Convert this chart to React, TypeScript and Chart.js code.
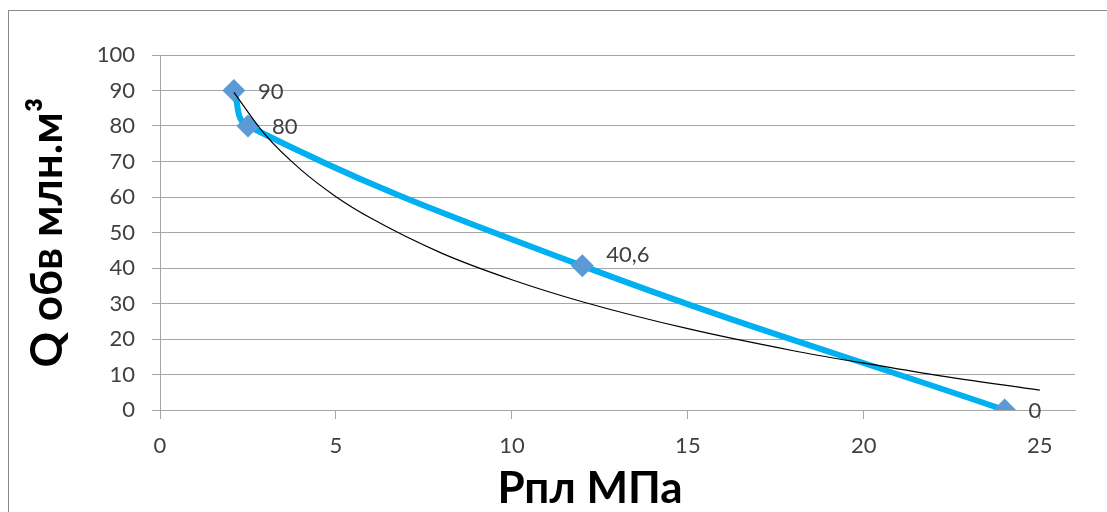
import React, { useEffect, useRef } from 'react';
import { Chart, registerables } from 'chart.js';

Chart.register(...registerables);

const pressure = [2.1, 2.5, 12, 24];
const volume = [90, 80, 40.6, 0];
const pointLabels = ['90', '80', '40,6', '0'];

// Thin black trend curve
const trendPressure = [2.1, 3, 4, 5, 6, 8, 10, 12, 15, 18, 20, 22, 25];
const trendVolume = [89.5, 77.4, 67.7, 60.1, 54.0, 44.2, 36.7, 30.5, 22.9, 16.7, 13.2, 9.9, 5.6];

const xTickValues = [0, 5, 10, 15, 20, 25];
const yTickValues = [0, 10, 20, 30, 40, 50, 60, 70, 80, 90, 100];

const xTitle = 'Рпл МПа';
const yTitle = 'Q обв млн.м³';

const GRID = '#A6A6A6';
const TICK_TEXT = '#404040';
const FONT = 'Lato';

const annotatePlugin = {
  id: 'annotate',
  afterDatasetsDraw(chart: any) {
    const ctx = chart.ctx as CanvasRenderingContext2D;
    const meta = chart.getDatasetMeta(1);
    const area = chart.chartArea;
    ctx.save();
    ctx.font = `22px ${FONT}`;
    ctx.fillStyle = TICK_TEXT;
    ctx.textAlign = 'left';
    ctx.textBaseline = 'middle';
    meta.data.forEach((pt: any, i: number) => {
      const dy = i === 2 ? -11 : 1;
      ctx.fillText(pointLabels[i], pt.x + 24, pt.y + dy);
    });
    ctx.fillStyle = '#000';
    ctx.font = `bold 44px ${FONT}`;
    ctx.textAlign = 'center';
    ctx.textBaseline = 'alphabetic';
    ctx.fillText(xTitle, area.left + 430, area.bottom + 93);
    ctx.translate(53, (area.top + area.bottom) / 2);
    ctx.rotate(-Math.PI / 2);
    ctx.fillText(yTitle, 0, 0);
    ctx.restore();
  },
};

export default function App() {
  const ref = useRef<HTMLCanvasElement | null>(null);

  useEffect(() => {
    document.body.style.overflow = 'hidden';
    const canvas = ref.current;
    if (!canvas) return;
    const chart = new Chart(canvas, {
      type: 'line',
      data: {
        datasets: [
          {
            label: 'trend',
            data: trendPressure.map((x, i) => ({ x, y: trendVolume[i] })),
            borderColor: '#000000',
            borderWidth: 1.2,
            pointRadius: 0,
            cubicInterpolationMode: 'monotone',
            fill: false,
          },
          {
            label: 'Q',
            data: pressure.map((x, i) => ({ x, y: volume[i] })),
            borderColor: '#00B0F0',
            borderWidth: 6,
            tension: 0.4,
            pointStyle: 'rectRot',
            pointRadius: 11.5,
            pointBackgroundColor: '#5B9BD5',
            pointBorderColor: '#5B9BD5',
            pointBorderWidth: 0,
            fill: false,
          },
        ],
      },
      options: {
        animation: false,
        responsive: false,
        devicePixelRatio: 1,
        layout: { padding: { top: 44, right: 32, left: 0, bottom: 0 } },
        plugins: {
          legend: { display: false },
          tooltip: { enabled: false },
          title: { display: false },
        },
        scales: {
          x: {
            type: 'linear',
            position: 'bottom',
            min: 0,
            max: 26,
            afterBuildTicks: (s: any) => {
              s.ticks = xTickValues.map((v) => ({ value: v }));
            },
            afterFit: (s: any) => {
              s.height = 102;
            },
            ticks: {
              stepSize: 5,
              includeBounds: false,
              padding: 14,
              color: TICK_TEXT,
              font: { family: FONT, size: 22 },
              maxRotation: 0,
            },
            grid: {
              drawOnChartArea: false,
              drawTicks: true,
              tickLength: 9,
              color: GRID,
              lineWidth: 1,
            },
            border: { color: GRID, width: 1 },
          },
          y: {
            type: 'linear',
            min: 0,
            max: 100,
            afterBuildTicks: (s: any) => {
              s.ticks = yTickValues.map((v) => ({ value: v }));
            },
            afterFit: (s: any) => {
              s.width = 151;
            },
            ticks: {
              stepSize: 10,
              padding: 17,
              color: TICK_TEXT,
              font: { family: FONT, size: 22 },
            },
            grid: {
              drawTicks: true,
              tickLength: 8,
              color: GRID,
              lineWidth: 1,
            },
            border: { color: GRID, width: 1 },
          },
        },
      },
      plugins: [annotatePlugin],
    } as any);
    return () => chart.destroy();
  }, []);

  return (
    <div
      style={{
        position: 'absolute',
        left: 8,
        top: 10,
        width: 1099,
        height: 501,
        borderTop: '1px solid #898989',
        borderLeft: '1px solid #898989',
      }}
    >
      <canvas ref={ref} width={1098} height={501} style={{ display: 'block' }} />
    </div>
  );
}
